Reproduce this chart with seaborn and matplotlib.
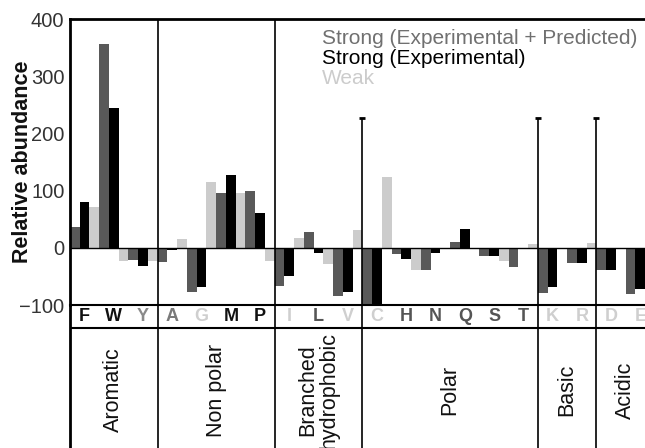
import matplotlib
matplotlib.use("Agg")
import matplotlib.pyplot as plt
import seaborn as sns
import pandas as pd

# ---- data ----
letters = ["F", "W", "Y", "A", "G", "M", "P", "I", "L", "V",
           "C", "H", "N", "Q", "S", "T", "K", "R", "D", "E"]
letter_colors = ["#111111", "#111111", "#8a8a8a", "#7a7a7a", "#cfcfcf", "#111111", "#111111",
                 "#cfcfcf", "#555555", "#cfcfcf", "#cfcfcf", "#555555", "#555555", "#555555",
                 "#555555", "#555555", "#cfcfcf", "#cfcfcf", "#cfcfcf", "#cfcfcf"]
strong_exp_pred = [37, 356, -21, -25, -78, 95, 99, -66, 28, -85,
                   -100, -10, -38, 11, -15, -33, -79, -26, -38, -81]
strong_exp = [80, 245, -31, -3, -68, 127, 61, -50, -9, -78,
              -100, -20, -9, 32, -15, 0, -69, -26, -38, -72]
weak = [71, -23, -23, 15, 115, 96, -23, 17, -28, 31,
        124, -38, 0, 0, -23, 6, 0, 9, 0, 30]
series_names = ["Strong (Experimental + Predicted)", "Strong (Experimental)", "Weak"]
series_colors = ["#595959", "#000000", "#cccccc"]
legend_text_colors = ["#707070", "#000000", "#cccccc"]
groups = ["Aromatic", "Non polar", "Branched\nhydrophobic", "Polar", "Basic", "Acidic"]
group_bounds = [(-0.5, 2.5), (2.5, 6.5), (6.5, 9.5), (9.5, 15.5), (15.5, 17.5), (17.5, 19.5)]
yticks = [-100, 0, 100, 200, 300, 400]

df = pd.DataFrame({
    "aa": letters * 3,
    "value": strong_exp_pred + strong_exp + weak,
    "type": [series_names[0]] * 20 + [series_names[1]] * 20 + [series_names[2]] * 20,
})

font = "Liberation Sans"
plt.rcParams["font.family"] = [font, "DejaVu Sans"]

W, H = 645, 448
fig = plt.figure(figsize=(W / 100, H / 100), dpi=100)
left_px, top_px, axis_bottom_px = 70, 19, 305
ax = fig.add_axes([left_px / W, (H - axis_bottom_px) / H, (W - left_px) / W,
                   (axis_bottom_px - top_px) / H])
ax2 = fig.add_axes([left_px / W, 0, (W - left_px) / W, (H - axis_bottom_px) / H])

sns.barplot(data=df, x="aa", y="value", hue="type", order=letters,
            hue_order=series_names, palette=series_colors, width=1.0, gap=0,
            saturation=1, errorbar=None, linewidth=0, legend=False, ax=ax)

xmax = 19.16
ax.set_xlim(-0.5, xmax)
ax.set_ylim(-100, 400)
ax.set_yticks(yticks)
ax.set_yticklabels([str(t).replace("-", "\u2212") for t in yticks], fontsize=14.5, color="#333333")
ax.tick_params(axis="y", length=0, pad=4)
ax.tick_params(axis="x", length=0, labelbottom=False)
ax.set_xlabel("")
ax.set_ylabel("Relative abundance", fontsize=15.5, fontweight="bold", color="#111111")
ax.yaxis.set_label_coords((33 - left_px) / (W - left_px), 0.5)
ax.spines["right"].set_visible(False)
ax.spines["left"].set_linewidth(2)
ax.spines["top"].set_linewidth(2)
ax.spines["bottom"].set_linewidth(1.5)
ax.axhline(0, color="black", lw=1.0, zorder=3)

# group separators
for a, b in group_bounds[1:]:
    if a in (2.5, 6.5):
        ax.vlines(a, -100, 400, color="black", lw=1.2, zorder=4)
    else:
        ax.vlines(a, -100, 227, color="black", lw=1.2, zorder=4)
        ax.plot([a], [227], marker="_", ms=4, mew=2, color="black", zorder=4)

# legend as colored text
for k, (name, col) in enumerate(zip(series_names, legend_text_colors)):
    fig.text(322 / W, 1 - (38 + 20 * k) / H, name, color=col, fontsize=15,
             ha="left", va="center")

# lower label area
ax2.set_xlim(-0.5, xmax)
ax2.set_ylim(H, axis_bottom_px)
for s in ["right", "top", "bottom"]:
    ax2.spines[s].set_visible(False)
ax2.spines["left"].set_linewidth(2)
ax2.set_xticks([])
ax2.set_yticks([])
ax2.patch.set_alpha(0)
ax2.axhline(328, color="black", lw=1.5)
for a, b in group_bounds[1:]:
    ax2.vlines(a, axis_bottom_px, H, color="black", lw=1.2)
for i, (l, c) in enumerate(zip(letters, letter_colors)):
    ax2.text(i, 316.5, l, color=c, fontsize=13, fontweight="bold", ha="center", va="center")
for g, (a, b) in zip(groups, group_bounds):
    ax2.text((a + b) / 2, 390, g, rotation=90, fontsize=15.5, ha="center", va="center",
             color="#111111", linespacing=1.0)

fig.savefig("out.png", dpi=100)
